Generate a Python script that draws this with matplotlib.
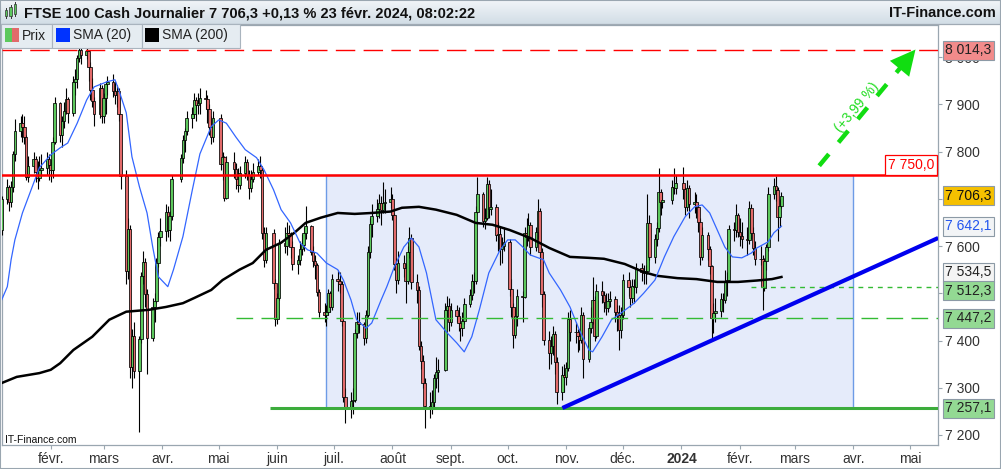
import numpy as np
import pandas as pd
import matplotlib
matplotlib.use("Agg")
import matplotlib.pyplot as plt
import matplotlib.dates as mdates
from matplotlib.patches import Rectangle
from matplotlib.lines import Line2D
from matplotlib.ticker import FuncFormatter
from matplotlib.colors import LinearSegmentedColormap

plt.rcParams['font.family'] = ['Liberation Sans', 'DejaVu Sans']

W, H = 1001, 469

# jours de bourse à Londres (jours fériés retirés)
holidays = ["2023-04-07", "2023-04-10", "2023-05-01", "2023-05-08", "2023-05-29",
            "2023-08-28", "2023-12-25", "2023-12-26", "2024-01-01"]
days = pd.bdate_range("2023-01-06", "2024-02-23")
days = days[~days.isin(pd.to_datetime(holidays))]

# cours journaliers (un mois par ligne)
opens = [
    7633, 7699, 7724, 7694, 7725, 7794, 7844, 7860, 7851, 7830, 7747, 7770, 7784, 7757, 7745, 7761, 7765, 7785,
    7771, 7762, 7820, 7902, 7836, 7864, 7885, 7911, 7882, 7947, 7953, 7998, 8014, 8004, 8013, 7978, 7930, 7907, 7879, 7935,
    7876, 7914, 7944, 7947, 7929, 7919, 7929, 7879, 7748, 7548, 7637, 7344, 7410, 7335, 7403, 7536, 7567, 7499, 7405, 7471, 7484, 7564, 7620,
    7632, 7673, 7634, 7663, 7742, 7786, 7825, 7843, 7872, 7880, 7909, 7898, 7902, 7914, 7912, 7891, 7852, 7831,
    7871, 7773, 7788, 7702, 7778, 7764, 7741, 7730, 7754, 7777, 7751, 7723, 7742, 7756, 7770, 7762, 7627, 7570, 7627, 7522,
    7446, 7490, 7607, 7600, 7628, 7624, 7599, 7562, 7570, 7594, 7602, 7628, 7642, 7588, 7569, 7559, 7502, 7461, 7453, 7461, 7500, 7471,
    7531, 7527, 7519, 7442, 7280, 7257, 7273, 7274, 7416, 7440, 7434, 7406, 7453, 7588, 7646, 7663, 7679, 7691, 7676, 7692, 7694,
    7699, 7666, 7561, 7529, 7564, 7554, 7527, 7587, 7618, 7524, 7507, 7389, 7357, 7310, 7262, 7257, 7270, 7320, 7333, 7338, 7465, 7473,
    7439, 7465, 7452, 7437, 7426, 7441, 7478, 7496, 7527, 7525, 7673, 7711, 7652, 7660, 7731, 7678, 7683, 7624, 7625, 7593, 7601,
    7608, 7510, 7470, 7412, 7452, 7494, 7492, 7628, 7620, 7644, 7599, 7630, 7675, 7588, 7499, 7402, 7374, 7389, 7414, 7354, 7291, 7327,
    7322, 7342, 7446, 7417, 7417, 7410, 7401, 7455, 7360, 7426, 7440, 7486, 7410, 7504, 7497, 7481, 7469, 7483, 7488, 7460, 7455, 7423,
    7453, 7529, 7514, 7490, 7515, 7513, 7554, 7545, 7543, 7548, 7649, 7576, 7614, 7638, 7715, 7694, 7697, 7725, 7723,
    7733, 7721, 7682, 7723, 7690, 7694, 7683, 7651, 7576, 7624, 7594, 7558, 7447, 7459, 7462, 7487, 7485, 7527, 7529, 7635, 7633, 7666,
    7630, 7622, 7615, 7612, 7681, 7628, 7595, 7573, 7573, 7512, 7568, 7597, 7711, 7728, 7719, 7662, 7684,
]
highs = [
    7706, 7742, 7730, 7738, 7801, 7868, 7875, 7880, 7875, 7835, 7790, 7800, 7790, 7780, 7790, 7795, 7800, 7795,
    7785, 7830, 7915, 7905, 7875, 7905, 7935, 7915, 7960, 7975, 8005, 8045, 8030, 8047, 8016, 7990, 7955, 7915, 7945, 7940,
    7925, 7950, 7960, 7965, 7950, 7940, 7935, 7880, 7760, 7660, 7645, 7425, 7440, 7410, 7545, 7590, 7575, 7510, 7490, 7500, 7575, 7630, 7660,
    7690, 7685, 7675, 7750, 7795, 7835, 7850, 7885, 7895, 7925, 7915, 7925, 7935, 7930, 7920, 7900, 7875, 7885,
    7880, 7800, 7790, 7790, 7800, 7775, 7765, 7770, 7790, 7785, 7760, 7760, 7775, 7785, 7790, 7765, 7640, 7640, 7635, 7530,
    7500, 7615, 7640, 7650, 7645, 7630, 7610, 7580, 7610, 7625, 7640, 7685, 7645, 7600, 7580, 7565, 7510, 7480, 7475, 7510, 7505, 7540,
    7550, 7545, 7525, 7445, 7300, 7290, 7300, 7425, 7460, 7460, 7440, 7465, 7600, 7660, 7690, 7700, 7710, 7705, 7735, 7720, 7725,
    7710, 7670, 7575, 7590, 7580, 7565, 7600, 7640, 7625, 7540, 7515, 7400, 7370, 7320, 7290, 7295, 7330, 7365, 7360, 7480, 7495, 7490,
    7480, 7475, 7470, 7450, 7460, 7490, 7510, 7540, 7545, 7685, 7746, 7715, 7680, 7747, 7740, 7720, 7690, 7650, 7640, 7620, 7640,
    7615, 7530, 7480, 7470, 7510, 7505, 7640, 7660, 7670, 7650, 7640, 7700, 7680, 7595, 7505, 7420, 7410, 7430, 7420, 7365, 7345, 7350,
    7355, 7460, 7465, 7440, 7425, 7425, 7470, 7460, 7435, 7470, 7535, 7495, 7520, 7525, 7505, 7500, 7500, 7505, 7495, 7475, 7475, 7470,
    7540, 7545, 7525, 7530, 7530, 7565, 7565, 7560, 7560, 7710, 7665, 7625, 7650, 7765, 7720, 7715, 7740, 7766, 7750,
    7768, 7725, 7740, 7730, 7715, 7710, 7690, 7660, 7640, 7630, 7600, 7560, 7480, 7490, 7500, 7500, 7550, 7545, 7645, 7650, 7690, 7670,
    7660, 7650, 7640, 7695, 7690, 7640, 7610, 7600, 7580, 7575, 7605, 7725, 7745, 7748, 7725, 7700, 7715,
]
lows = [
    7623, 7690, 7675, 7682, 7715, 7780, 7830, 7820, 7815, 7740, 7735, 7755, 7735, 7720, 7738, 7748, 7750, 7740,
    7735, 7745, 7815, 7820, 7810, 7850, 7880, 7860, 7875, 7920, 7935, 7990, 7985, 7995, 7950, 7910, 7895, 7855, 7870, 7860,
    7860, 7880, 7920, 7915, 7900, 7895, 7865, 7720, 7520, 7530, 7320, 7300, 7320, 7206, 7395, 7520, 7470, 7330, 7400, 7440, 7480, 7555, 7600,
    7610, 7620, 7610, 7655, 7735, 7775, 7800, 7835, 7850, 7870, 7865, 7880, 7880, 7890, 7860, 7835, 7815, 7820,
    7760, 7740, 7695, 7700, 7745, 7720, 7715, 7720, 7745, 7740, 7700, 7715, 7735, 7750, 7745, 7615, 7555, 7565, 7510, 7430,
    7435, 7485, 7585, 7580, 7600, 7575, 7550, 7540, 7560, 7580, 7590, 7615, 7580, 7555, 7530, 7495, 7450, 7440, 7430, 7455, 7460, 7465,
    7505, 7500, 7430, 7270, 7225, 7235, 7245, 7270, 7405, 7415, 7390, 7395, 7450, 7575, 7620, 7650, 7660, 7645, 7670, 7670, 7680,
    7655, 7550, 7500, 7520, 7535, 7480, 7520, 7575, 7510, 7480, 7380, 7340, 7300, 7215, 7235, 7245, 7255, 7300, 7290, 7335, 7450, 7420,
    7430, 7440, 7420, 7400, 7410, 7435, 7470, 7485, 7500, 7520, 7670, 7640, 7635, 7655, 7660, 7665, 7610, 7590, 7560, 7565, 7590,
    7495, 7450, 7384, 7405, 7430, 7440, 7490, 7600, 7610, 7580, 7590, 7615, 7575, 7470, 7390, 7340, 7350, 7370, 7330, 7265, 7275, 7290,
    7305, 7335, 7400, 7395, 7375, 7380, 7395, 7320, 7355, 7415, 7435, 7400, 7405, 7480, 7460, 7455, 7460, 7470, 7440, 7420, 7380, 7405,
    7445, 7495, 7470, 7480, 7480, 7500, 7525, 7520, 7520, 7540, 7570, 7565, 7600, 7630, 7665, 7680, 7690, 7710, 7710,
    7700, 7665, 7675, 7660, 7670, 7660, 7630, 7560, 7570, 7570, 7540, 7405, 7415, 7440, 7450, 7460, 7480, 7495, 7525, 7610, 7620, 7620,
    7600, 7595, 7580, 7605, 7615, 7580, 7560, 7560, 7465, 7505, 7550, 7590, 7700, 7695, 7610, 7640, 7680,
]
closes = [
    7699, 7724, 7694, 7725, 7794, 7844, 7860, 7851, 7830, 7747, 7770, 7784, 7757, 7745, 7761, 7765, 7785, 7771,
    7762, 7820, 7902, 7836, 7864, 7885, 7911, 7882, 7947, 7953, 7998, 8014.3, 8004, 8013, 7978, 7930, 7907, 7879, 7935, 7876,
    7914, 7944, 7947, 7929, 7919, 7929, 7879, 7748, 7548, 7637, 7344, 7410, 7335, 7403, 7536, 7567, 7499, 7405, 7471, 7484, 7564, 7620, 7632,
    7673, 7634, 7663, 7742, 7786, 7825, 7843, 7872, 7880, 7909, 7898, 7902, 7914, 7912, 7891, 7852, 7831, 7871,
    7773, 7788, 7702, 7778, 7764, 7741, 7730, 7754, 7777, 7751, 7723, 7742, 7756, 7770, 7762, 7627, 7570, 7627, 7522, 7446,
    7490, 7607, 7600, 7628, 7624, 7599, 7562, 7570, 7594, 7602, 7628, 7642, 7588, 7569, 7559, 7502, 7461, 7453, 7461, 7500, 7471, 7531,
    7527, 7519, 7442, 7280, 7257, 7273, 7274, 7416, 7440, 7434, 7406, 7453, 7588, 7646, 7663, 7679, 7691, 7676, 7692, 7694, 7699,
    7666, 7561, 7529, 7564, 7554, 7527, 7587, 7618, 7524, 7507, 7389, 7357, 7310, 7262, 7257.1, 7270, 7320, 7333, 7338, 7465, 7473, 7439,
    7465, 7452, 7437, 7426, 7441, 7478, 7496, 7527, 7525, 7673, 7711, 7652, 7660, 7731, 7678, 7683, 7624, 7625, 7593, 7601, 7608,
    7510, 7470, 7412, 7452, 7494, 7492, 7628, 7620, 7644, 7599, 7630, 7675, 7588, 7499, 7402, 7374, 7389, 7414, 7354, 7291, 7327, 7322,
    7342, 7446, 7417, 7417, 7410, 7401, 7455, 7360, 7426, 7440, 7486, 7410, 7504, 7497, 7481, 7469, 7483, 7488, 7460, 7455, 7423, 7453,
    7529, 7514, 7490, 7515, 7513, 7554, 7545, 7543, 7548, 7649, 7576, 7614, 7638, 7715, 7694, 7697, 7725, 7723, 7733,
    7721, 7682, 7723, 7690, 7694, 7683, 7651, 7576, 7624, 7594, 7558, 7447.2, 7459, 7462, 7487, 7485, 7527, 7529, 7635, 7633, 7666, 7630,
    7622, 7615, 7612, 7681, 7628, 7595, 7573, 7573, 7512.3, 7568, 7597, 7711, 7728, 7719, 7662, 7684, 7706.3,
]

# moyennes mobiles
sma20_dates = [
    "2023-01-06", "2023-01-09", "2023-01-11", "2023-01-13", "2023-01-17", "2023-01-23", "2023-01-26",
    "2023-02-01", "2023-02-06", "2023-02-10", "2023-02-15", "2023-02-20", "2023-02-24",
    "2023-03-03", "2023-03-07", "2023-03-09", "2023-03-13", "2023-03-16", "2023-03-20", "2023-03-24", "2023-03-27", "2023-03-30",
    "2023-04-04", "2023-04-07", "2023-04-12", "2023-04-17", "2023-04-21", "2023-04-27",
    "2023-05-01", "2023-05-05", "2023-05-10", "2023-05-15", "2023-05-21", "2023-05-25", "2023-05-30",
    "2023-06-03", "2023-06-08", "2023-06-13", "2023-06-17", "2023-06-22", "2023-06-27",
    "2023-07-03", "2023-07-06", "2023-07-10", "2023-07-13", "2023-07-18", "2023-07-21", "2023-07-26", "2023-07-29",
    "2023-08-02", "2023-08-07", "2023-08-11", "2023-08-15", "2023-08-19", "2023-08-24", "2023-08-30",
    "2023-09-04", "2023-09-08", "2023-09-12", "2023-09-16", "2023-09-21", "2023-09-27",
    "2023-10-01", "2023-10-05", "2023-10-09", "2023-10-13", "2023-10-20", "2023-10-23", "2023-10-29",
    "2023-11-03", "2023-11-08", "2023-11-13", "2023-11-15", "2023-11-20", "2023-11-25", "2023-11-30",
    "2023-12-07", "2023-12-12", "2023-12-18", "2023-12-23", "2023-12-28",
    "2024-01-03", "2024-01-08", "2024-01-12", "2024-01-16", "2024-01-20", "2024-01-24", "2024-01-28",
    "2024-02-02", "2024-02-07", "2024-02-10", "2024-02-16", "2024-02-19", "2024-02-23",
]
sma20 = [
    7486, 7514, 7571, 7613, 7670, 7734, 7766,
    7793, 7808, 7818, 7860, 7909, 7937,
    7948, 7952, 7931, 7882, 7789, 7725, 7670, 7598, 7535,
    7514, 7550, 7620, 7719, 7795, 7853,
    7867, 7860, 7831, 7804, 7787, 7761, 7719,
    7677, 7649, 7607, 7592, 7585, 7564,
    7550, 7528, 7486, 7444, 7426, 7437, 7486, 7514,
    7556, 7598, 7617, 7598, 7543, 7444, 7416,
    7395, 7376, 7408, 7465, 7543, 7592,
    7613, 7613, 7598, 7581, 7571, 7543, 7507,
    7471, 7422, 7380, 7376, 7408, 7444, 7458,
    7479, 7500, 7528, 7577, 7620,
    7662, 7683, 7687, 7670, 7634, 7598, 7577,
    7575, 7585, 7596, 7609, 7628, 7642.1,
]
sma200_dates = [
    "2023-01-06", "2023-01-14", "2023-01-26", "2023-02-01", "2023-02-06", "2023-02-13", "2023-02-23",
    "2023-03-04", "2023-03-13", "2023-03-25", "2023-04-03", "2023-04-12", "2023-04-18", "2023-04-27",
    "2023-05-03", "2023-05-12", "2023-05-19", "2023-05-26", "2023-06-03", "2023-06-10", "2023-06-16", "2023-06-24",
    "2023-07-03", "2023-07-12", "2023-07-21", "2023-07-31", "2023-08-06", "2023-08-15", "2023-08-24",
    "2023-09-04", "2023-09-14", "2023-09-23", "2023-10-02", "2023-10-13", "2023-10-23",
    "2023-11-03", "2023-11-13", "2023-11-21", "2023-12-02", "2023-12-12", "2023-12-19", "2023-12-30",
    "2024-01-09", "2024-01-20", "2024-01-31", "2024-02-10", "2024-02-18", "2024-02-23",
]
sma200 = [
    7310, 7323, 7331, 7338, 7352, 7380, 7408,
    7444, 7461, 7465, 7471, 7479, 7490, 7507,
    7528, 7550, 7564, 7592, 7607, 7628, 7649, 7660,
    7670, 7668, 7670, 7673, 7681, 7683, 7677,
    7666, 7649, 7645, 7634, 7617, 7596,
    7577, 7575, 7573, 7562, 7545, 7537, 7532,
    7530, 7524, 7524, 7527, 7530, 7534.5,
]

month_ticks = pd.date_range("2023-02-01", "2024-05-01", freq="MS")
month_labels = ["févr.", "mars", "avr.", "mai", "juin", "juil.", "août", "sept.",
                "oct.", "nov.", "déc.", "2024", "févr.", "mars", "avr.", "mai"]

# graduations de prix affichées (7 500 et 7 700 masquées par les étiquettes)
price_ticks = [7200, 7300, 7400, 7500, 7600, 7700, 7800, 7900, 8000]
hidden_ticks = [7500, 7700]

# niveaux tracés
resistance = 7750.0
top_close = 8014.3
support = 7257.1
level_dash = 7447.2
level_dot = 7512.3
trend_start = ("2023-10-30", 7257.1)
trend_end = ("2024-05-16", 7617.0)
box_start, box_end = "2023-06-27", "2024-04-01"
arrow_start = ("2024-03-14", 7770.0)
arrow_end = ("2024-05-04", 8016.0)

label_vals = [8014.3, 7706.3, 7642.1, 7534.5, 7512.3, 7447.2, 7257.1]
label_fc = ['#f28b8b', '#f5c000', '#f2f4f6', '#f4f4f4', '#93d993', '#93d993', '#93d993']
label_tc = ['#222222', '#111111', '#2255ee', '#222222', '#222222', '#222222', '#222222']
label_dy = [0, 0, 0, 3.5, -2.2, 0, 0]


def d2n(s):
    return mdates.date2num(pd.Timestamp(s))


def fr(v, nd=1):
    return f"{v:,.{nd}f}".replace(",", " ").replace(".", ",")


fig = plt.figure(figsize=(W / 100, H / 100), dpi=100, facecolor='white')
ax = fig.add_axes([1.5 / W, 24 / H, 936.5 / W, 420 / H])
xmin, xmax = d2n("2023-01-05 22:00"), d2n("2024-05-15 22:00")
ax.set_xlim(xmin, xmax)
ax.set_ylim(7178.8, 8067.9)

# rectangle de consolidation
ax.add_patch(Rectangle((d2n(box_start), support), d2n(box_end) - d2n(box_start),
                       resistance - support, fc='#e5ebfa', ec='#6d9be6', lw=1, zorder=1))

# chandeliers
xd = mdates.date2num(days.to_pydatetime())
o, h, l, c = map(np.array, (opens, highs, lows, closes))
cols = np.where(c >= o, '#5cc85c', '#e26a6a')
ax.vlines(xd, l, h, color='black', lw=0.8, zorder=3)
ax.bar(xd, c - o, bottom=o, width=1.35, color=cols, edgecolor='black', linewidth=0.55, zorder=4)

# moyennes mobiles
ax.plot([d2n(s) for s in sma200_dates], sma200, color='black', lw=1.8, zorder=5)
ax.plot([d2n(s) for s in sma20_dates], sma20, color='#3366ff', lw=0.9, zorder=5)

# niveaux horizontaux
ax.axhline(resistance, color='#ff0000', lw=1.8, zorder=6)
ax.axhline(top_close, color='#ff0000', lw=1, linestyle=(0, (14, 6)), zorder=6)
ax.hlines(support, d2n("2023-05-28"), xmax, color='#3cac3c', lw=2.2, zorder=6)
ax.hlines(level_dash, d2n("2023-05-10"), xmax, color='#33bb33', lw=1, linestyles=[(0, (12, 6))], zorder=6)
ax.hlines(level_dot, d2n("2024-02-07"), xmax, color='#33bb33', lw=1, linestyles=[(0, (3.5, 3.5))], zorder=6)

# oblique haussière
ax.plot([d2n(trend_start[0]), d2n(trend_end[0])], [trend_start[1], trend_end[1]],
        color='#0000ee', lw=3, solid_capstyle='butt', zorder=6)

# flèche objectif
ax0, ay0 = d2n(arrow_start[0]), arrow_start[1]
ax1, ay1 = d2n(arrow_end[0]), arrow_end[1]
bx, by = ax0 + 0.84 * (ax1 - ax0), ay0 + 0.84 * (ay1 - ay0)
ax.plot([ax0, bx], [ay0, by], color='#11dd11', lw=3.2, linestyle=(0, (3.4, 3.4)),
        dash_capstyle='butt', zorder=7, clip_on=False)
ax.annotate('', xy=(ax1, ay1), xytext=(bx, by),
            arrowprops=dict(arrowstyle='-|>,head_length=1.2,head_width=0.6', mutation_scale=15,
                            color='#11dd11', lw=0, shrinkA=0, shrinkB=0), zorder=7)
ax.text(d2n("2024-04-03"), 7893, "(+3,99 %)", rotation=50, rotation_mode='anchor',
        ha='center', va='center', color='#22dd22', fontsize=10, zorder=7)

# étiquette de la résistance
ax.annotate(fr(resistance), xy=(1, resistance), xycoords=('axes fraction', 'data'),
            xytext=(-2.6, 7.3), textcoords='offset points', ha='right', va='center',
            fontsize=10, color='#ff0000', zorder=8,
            bbox=dict(boxstyle='square,pad=0.2', fc='white', ec='#ff0000', lw=0.9))

# axes
ax.yaxis.tick_right()
ax.set_yticks(price_ticks)
ax.yaxis.set_major_formatter(FuncFormatter(
    lambda v, p: "" if round(v) in hidden_ticks else f"{v:,.0f}".replace(",", " ")))
ax.set_xticks([mdates.date2num(t) for t in month_ticks])
ax.set_xticklabels(month_labels)
for t in ax.get_xticklabels():
    if t.get_text() == "2024":
        t.set_fontweight('bold')
ax.tick_params(axis='both', colors='#9aa6b0', labelcolor='#333333', labelsize=10,
               length=3, width=0.8, pad=2)
for sp in ax.spines.values():
    sp.set_color('#9aa6b0')
    sp.set_linewidth(0.9)

# étiquettes de prix sur l'échelle
for v, fc, tc, dy in zip(label_vals, label_fc, label_tc, label_dy):
    ax.annotate(fr(v), xy=(1, v), xycoords=('axes fraction', 'data'),
                xytext=(5.2, dy), textcoords='offset points', ha='left', va='center',
                fontsize=10, color=tc, zorder=9, annotation_clip=False,
                bbox=dict(boxstyle='square,pad=0.18', fc=fc, ec='#8c9aa6', lw=0.8))

ax.text(3 / 936.5, 5.5 / 420, "IT-Finance.com", transform=ax.transAxes, fontsize=7.5,
        color='#111111', va='center', ha='left', zorder=8)


# décor : barre de titre et légende
def prect(x, y, w, h, **kw):
    fig.add_artist(Rectangle((x / W, 1 - (y + h) / H), w / W, h / H,
                             transform=fig.transFigure, **kw))


tb = fig.add_axes([0, 1 - 24 / H, 1, 24 / H])
tb.imshow(np.linspace(0, 1, 24).reshape(-1, 1), aspect='auto', extent=(0, 1, 0, 1),
          cmap=LinearSegmentedColormap.from_list('tb', ['#f1f5f8', '#d2dde6']))
tb.axis('off')
fig.add_artist(Line2D([0, 1], [1 - 24.5 / H] * 2, transform=fig.transFigure,
                      color='#a0aab4', lw=0.9))

# icône chandeliers
for ix, y0, hh in [(6, 10, 6), (10.5, 7, 9), (15, 4, 10)]:
    fig.add_artist(Line2D([ix / W] * 2, [1 - (y0 - 2) / H, 1 - (y0 + hh + 2) / H],
                          transform=fig.transFigure, color='#333333', lw=0.7, zorder=6))
    prect(ix - 1.3, y0, 2.6, hh, fc='#5cc85c', ec='#333333', lw=0.5, zorder=7)

fig.text(24 / W, 1 - 13 / H, "FTSE 100 Cash Journalier 7 706,3 +0,13 % 23 févr. 2024, 08:02:22",
         fontsize=10.5, fontweight='bold', color='#111111', va='center', ha='left', zorder=8)
fig.text(996 / W, 1 - 13 / H, "IT-Finance.com", fontsize=10.5, fontweight='bold',
         color='#111111', va='center', ha='right', zorder=8)

for x0, w in [(1, 50.5), (52, 89.5), (142, 97.5)]:
    prect(x0, 24.5, w, 23, fc='#e5ecf1', ec='#a9b4be', lw=0.8, zorder=5)
prect(5, 28, 7, 14, fc='#5cc85c', ec='none', zorder=6)
prect(12, 28, 7, 14, fc='#e26a6a', ec='none', zorder=6)
prect(56, 28, 13.5, 14, fc='#0033ff', ec='none', zorder=6)
prect(145, 28, 13.5, 14, fc='black', ec='none', zorder=6)
for x0, s in [(22, "Prix"), (73, "SMA (20)"), (162, "SMA (200)")]:
    fig.text(x0 / W, 1 - 35.5 / H, s, fontsize=10, color='#222222', va='center', ha='left', zorder=7)

fig.add_artist(Rectangle((0, 0), 1, 1, fill=False, ec='#9aa6b0', lw=1.5,
                         transform=fig.transFigure, zorder=10))

fig.savefig("out.png", dpi=100, facecolor='white')
